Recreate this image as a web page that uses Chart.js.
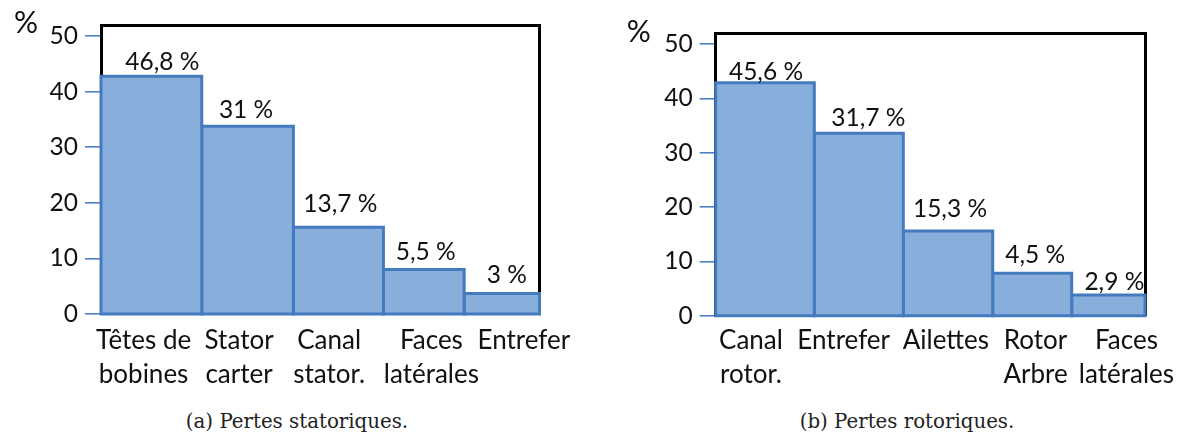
<!DOCTYPE html>
<html><head><meta charset="utf-8">
<script src="https://cdn.jsdelivr.net/npm/chart.js@4.4.1/dist/chart.umd.min.js"></script>
<style>
html,body{margin:0;padding:0;background:#fff;width:1184px;height:433px;overflow:hidden;position:relative}
.wrap{position:absolute;top:0;width:592px;height:400px}
.cap{position:absolute;font-family:"DejaVu Serif";font-size:19.8px;line-height:1;color:#222;white-space:nowrap;transform:translateX(-50%)}
</style></head><body>
<div class="wrap" style="left:0"><canvas id="cA" width="592" height="400"></canvas></div>
<div class="wrap" style="left:592px"><canvas id="cB" width="592" height="400"></canvas></div>
<div class="cap" style="left:297px;top:411.5px">(a) Pertes statoriques.</div>
<div class="cap" style="left:907px;top:411.5px">(b) Pertes rotoriques.</div>
<script>
// ---- data ----
const categoriesA = [["Têtes de","bobines"],["Stator","carter"],["Canal","stator."],["Faces","latérales"],["Entrefer"]];
const valuesA = [42.8, 33.8, 15.6, 8.0, 3.7];
const valueLabelsA = ["46,8 %","31 %","13,7 %","5,5 %","3 %"];

const categoriesB = [["Canal","rotor."],["Entrefer"],["Ailettes"],["Rotor","Arbre"],["Faces","latérales"]];
const valuesB = [42.9, 33.6, 15.6, 7.8, 3.8];
const valueLabelsB = ["45,6 %","31,7 %","15,3 %","4,5 %","2,9 %"];

const yTickValues = [0, 10, 20, 30, 40, 50];
const yAxisTitle = "%";

// ---- layout / style ----
const BAR_FILL = "rgb(136,174,220)";
const BAR_BORDER = "rgb(68,123,190)";
const TICK_COLOR = "rgb(80,130,195)";
const FONT = "Lato";

const layoutA = {
  widths: [100.7, 91.6, 90, 80.7, 75.3],
  labelShift: [-7.8, -8.5, -9.3, 7.6, 22],
  valDx: [11, -1.5, 2, 2, 5],
  valGap: [6, 8, 15.6, 9.3, 10.3],
  area: {left: 101, top: 25, right: 539.5, bottom: 314},
  xPad: 1.5, pctDx: -87, pctDy: 8
};
const layoutB = {
  widths: [98.6, 89, 89.4, 79, 73.3],
  labelShift: [-14, -15.1, -2.1, 3.3, 18.1],
  valDx: [1, 9.6, 2, 3, 6],
  valGap: [2.5, 7.7, 14, 10.6, 5],
  area: {left: 123.7, top: 33.3, right: 553, bottom: 315.7},
  xPad: -0.5, pctDx: -89, pctDy: 8.4
};

function build(id, cats, vals, vlabels, L) {
  const W = 592, H = 400;
  const edges = [0];
  L.widths.forEach(w => edges.push(edges[edges.length - 1] + w));
  const total = edges[edges.length - 1];
  const anchors = vals.map((v, i) => (edges[i] + edges[i + 1]) / 2 + L.labelShift[i]);

  const datasets = vals.map((v, i) => ({
    type: 'line',
    data: [
      {x: edges[i], y: 0}, {x: edges[i], y: v},
      {x: edges[i + 1], y: v}, {x: edges[i + 1], y: 0}, {x: edges[i], y: 0}
    ],
    borderColor: BAR_BORDER, backgroundColor: BAR_FILL,
    borderWidth: 3, fill: 'shape', pointRadius: 0, tension: 0,
    borderJoinStyle: 'miter', borderCapStyle: 'square', clip: false
  }));

  const labelPlugin = {
    id: 'valueLabels',
    afterDatasetsDraw(chart) {
      const {ctx, chartArea} = chart;
      const xs = chart.scales.x, ys = chart.scales.y;
      ctx.save();
      ctx.fillStyle = '#111';
      ctx.font = `24.5px ${FONT}`;
      ctx.textAlign = 'center';
      ctx.textBaseline = 'alphabetic';
      vals.forEach((v, i) => {
        const cx = xs.getPixelForValue((edges[i] + edges[i + 1]) / 2) + L.valDx[i];
        const y = ys.getPixelForValue(v) - L.valGap[i];
        ctx.fillText(vlabels[i], cx, y);
      });
      ctx.font = `30px ${FONT}`;
      ctx.textAlign = 'left';
      ctx.fillText(yAxisTitle, chartArea.left + L.pctDx, chartArea.top + L.pctDy);
      ctx.restore();
    }
  };

  return new Chart(document.getElementById(id), {
    type: 'line',
    data: {datasets},
    plugins: [labelPlugin],
    options: {
      responsive: false, animation: false,
      layout: {padding: {left: 0, top: L.area.top, right: W - L.area.right, bottom: 0}},
      plugins: {legend: {display: false}, tooltip: {enabled: false}},
      scales: {
        x: {
          type: 'linear', position: 'bottom', min: 0, max: total,
          afterFit(s) { s.height = H - L.area.bottom; },
          afterBuildTicks(s) { s.ticks = anchors.map(v => ({value: v})); },
          ticks: {
            autoSkip: false, maxRotation: 0, minRotation: 0, padding: L.xPad,
            font: {family: FONT, size: 26, lineHeight: 1.31}, color: '#111',
            callback: (v, i) => cats[i]
          },
          grid: {display: false}, border: {display: false}
        },
        y: {
          type: 'linear', position: 'left', min: 0, max: 52,
          afterBuildTicks(s) { s.ticks = yTickValues.map(v => ({value: v})); },
          afterFit(s) { s.width = L.area.left; },
          ticks: {padding: 7, font: {family: FONT, size: 24.5}, color: '#111'},
          grid: {drawOnChartArea: false, tickLength: 16, tickColor: TICK_COLOR, lineWidth: 1.6},
          border: {display: true, color: '#000', width: 3}
        },
        xTop: {
          type: 'linear', position: 'top', display: true,
          ticks: {display: false}, grid: {display: false},
          border: {display: true, color: '#000', width: 3},
          afterFit(s) { s.height = 0; }
        },
        yRight: {
          type: 'linear', position: 'right', display: true,
          ticks: {display: false}, grid: {display: false},
          border: {display: true, color: '#000', width: 3},
          afterFit(s) { s.width = 0; }
        }
      }
    }
  });
}

build('cA', categoriesA, valuesA, valueLabelsA, layoutA);
build('cB', categoriesB, valuesB, valueLabelsB, layoutB);
</script>
</body></html>
